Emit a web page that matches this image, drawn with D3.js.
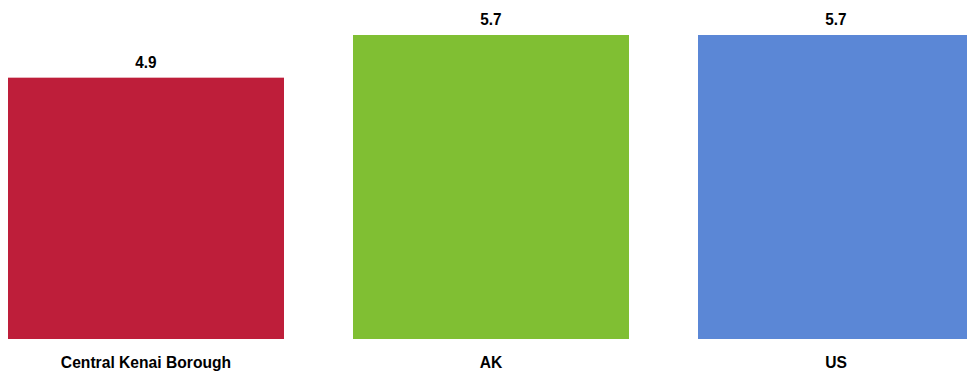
<!DOCTYPE html>
<html lang="en">
<head>
<meta charset="utf-8">
<title>Bar chart</title>
<script src="https://cdn.jsdelivr.net/npm/d3@7"></script>
<style>
  body { margin: 0; background: #fff; }
  svg { display: block; }
  text { font-family: "Liberation Sans Narrow", "Arial Narrow", "Liberation Sans", sans-serif; font-weight: bold; fill: #000; }
</style>
</head>
<body>
<script>
var categories = ["Central Kenai Borough", "AK", "US"];
var values = [4.9, 5.7, 5.7];
var colors = ["#be1e3a", "#80bf33", "#5b87d6"];

var width = 967, height = 373;
var baseY = 339;

var svg = d3.select("body").append("svg")
  .attr("width", width)
  .attr("height", height);

// step 345, bar 276 -> inner padding 0.2; last bar runs off the right edge
var x = d3.scaleBand()
  .domain(categories)
  .range([8, 8 + 345 * 2.8])
  .paddingInner(0.2)
  .paddingOuter(0);

var y = d3.scaleLinear()
  .domain([0, 5.7])
  .range([baseY, 35]);

svg.selectAll("rect.bar")
  .data(values)
  .enter().append("rect")
  .attr("class", "bar")
  .attr("x", function(d, i) { return x(categories[i]); })
  .attr("y", function(d) { return y(d); })
  .attr("width", x.bandwidth())
  .attr("height", function(d) { return baseY - y(d); })
  .style("fill", function(d, i) { return colors[i]; });

svg.selectAll("text.val")
  .data(values)
  .enter().append("text")
  .attr("class", "val")
  .attr("transform", function(d, i) {
    return "translate(" + (x(categories[i]) + x.bandwidth() / 2) + "," + (y(d) - 10) + ") scale(0.9,1)";
  })
  .attr("text-anchor", "middle")
  .style("font-size", "17px")
  .text(function(d) { return d3.format(".1f")(d); });

svg.selectAll("text.cat")
  .data(categories)
  .enter().append("text")
  .attr("class", "cat")
  .attr("transform", function(d) {
    return "translate(" + (x(d) + x.bandwidth() / 2) + ",368) scale(0.92,1)";
  })
  .attr("text-anchor", "middle")
  .style("font-size", "17px")
  .text(function(d) { return d; });
</script>
</body>
</html>
